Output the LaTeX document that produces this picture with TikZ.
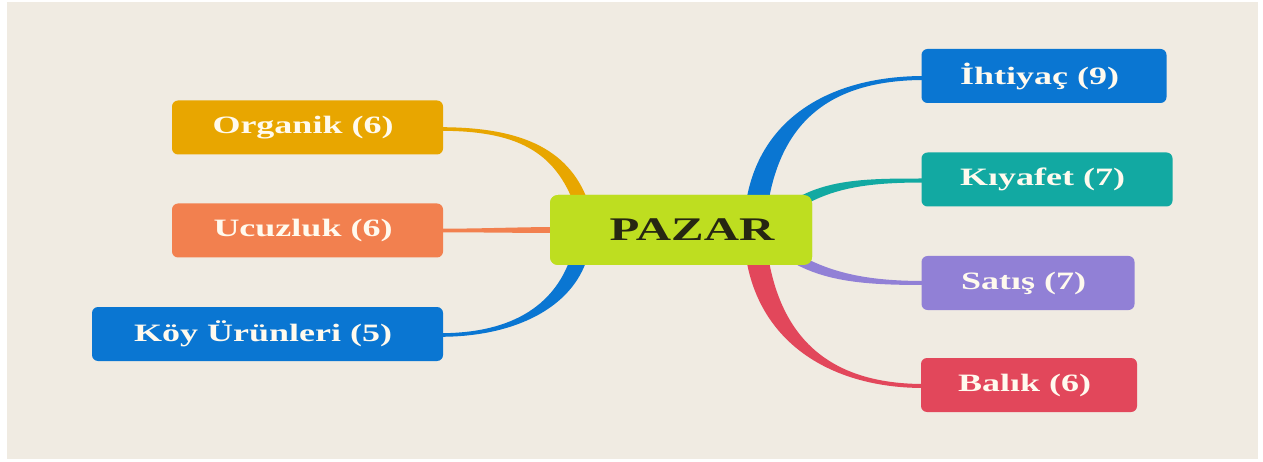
\documentclass[tikz,border=0pt]{standalone}
\usepackage{graphicx}
\usepackage{fontspec}
\setmainfont{Liberation Serif}
\usetikzlibrary{calc}

\definecolor{paper}{RGB}{240,235,226}
\definecolor{hubfill}{RGB}{190,222,32}
\definecolor{hubtext}{RGB}{38,38,18}
\definecolor{amber}{RGB}{232,166,0}
\definecolor{salmon}{RGB}{242,128,79}
\definecolor{azure}{RGB}{10,118,210}
\definecolor{teal}{RGB}{18,169,162}
\definecolor{lilac}{RGB}{145,128,214}
\definecolor{rose}{RGB}{226,71,91}
\definecolor{leaftext}{RGB}{255,250,238}

% wide bold label, as printed on the leaf boxes
\newcommand{\leaftxt}[1]{\scalebox{1.44}[1]{#1}\hspace*{9pt}}

% tapered branch: colour, leaf end, control, control, hub end,
% leaf half-width, hub half-width, side angle (90 left, -90 right)
\newcommand{\taperlink}[8]{%
  \coordinate (ta) at ($(#5)!#7!#8:(#4)$);
  \coordinate (tb) at ($2*(#5)-(ta)$);
  \fill[#1] ($(#2)+(0,#6)$) .. controls ($(#3)+(0,#6)$) and ($(#4)+(ta)-(#5)$) .. (ta)
    -- (tb) .. controls ($(#4)+(tb)-(#5)$) and ($(#3)-(0,#6)$) .. ($(#2)-(0,#6)$) -- cycle;
}

\tikzset{
  leaf/.style={rounded corners=6pt, minimum height=54pt, inner sep=0pt,
    text=leaftext, font=\fontsize{25}{30}\selectfont\bfseries},
  hub/.style={rounded corners=8pt, minimum width=262pt, minimum height=70pt,
    inner sep=0pt, fill=hubfill, text=hubtext,
    font=\fontsize{33}{36}\selectfont\bfseries},
}

\begin{document}
\begin{tikzpicture}[x=1pt,y=-1pt]
  \useasboundingbox (0,0) rectangle (1263,462);
  \fill[white] (0,0) rectangle (1263,462);
  \fill[paper] (7,2) rectangle (1258,459);

  % nodes are placed first so the branches can refer to them
  \begin{pgfonlayer}{main}
  \path
    node[hub] (pz) at (681,230) {\hspace*{22pt}\scalebox{1.48}[1]{PAZAR}}
    node[leaf, minimum width=271pt] (org) at (307.5,127.5) {}
    node[leaf, minimum width=271pt] (ucu) at (307.5,230.5) {}
    node[leaf, minimum width=351pt] (koy) at (267.5,334) {}
    node[leaf, minimum width=245pt] (iht) at (1044,76) {}
    node[leaf, minimum width=251pt] (kiy) at (1047,179.5) {}
    node[leaf, minimum width=213pt] (sat) at (1028,283) {}
    node[leaf, minimum width=216pt] (bal) at (1029,385) {};
  \end{pgfonlayer}

  % branch end points
  \coordinate (o0) at ($(org.east)+(-3,1.5)$);
  \coordinate (o1) at ($(org.east)+(72,1.5)$);
  \coordinate (o2) at ($(pz.north west)+(12,-47)$);
  \coordinate (o3) at ($(pz.north west)+(32,10)$);

  \coordinate (u0) at ($(ucu.east)+(-3,0)$);
  \coordinate (u1) at ($(ucu.east)+(40,0)$);
  \coordinate (u2) at ($(pz.west)+(-30,0)$);
  \coordinate (u3) at ($(pz.west)+(10,0)$);

  \coordinate (k0) at ($(koy.east)+(-3,1)$);
  \coordinate (k1) at ($(koy.east)+(72,1)$);
  \coordinate (k2) at ($(pz.south west)+(15,40)$);
  \coordinate (k3) at ($(pz.south west)+(30,-10)$);

  \coordinate (i0) at ($(iht.west)+(3,2)$);
  \coordinate (i1) at ($(iht.west)+(-91,2)$);
  \coordinate (i2) at ($(pz.north west)+(220,-75)$);
  \coordinate (i3) at ($(pz.north west)+(207,10)$);

  \coordinate (c0) at ($(kiy.west)+(3,1)$);
  \coordinate (c1) at ($(kiy.west)+(-51,1)$);
  \coordinate (c2) at ($(pz.north east)+(18,-12)$);
  \coordinate (c3) at ($(pz.north east)+(-17,10)$);

  \coordinate (s0) at ($(sat.west)+(3,0)$);
  \coordinate (s1) at ($(sat.west)+(-51,0)$);
  \coordinate (s2) at ($(pz.south east)+(18,13)$);
  \coordinate (s3) at ($(pz.south east)+(-17,-7)$);

  \coordinate (b0) at ($(bal.west)+(3,1)$);
  \coordinate (b1) at ($(bal.west)+(-91,1)$);
  \coordinate (b2) at ($(pz.south west)+(220,75)$);
  \coordinate (b3) at ($(pz.south west)+(207,-10)$);

  \taperlink{amber}{o0}{o1}{o2}{o3}{1.8}{7pt}{90}
  \taperlink{salmon}{u0}{u1}{u2}{u3}{1.8}{3pt}{90}
  \taperlink{azure}{k0}{k1}{k2}{k3}{1.8}{8pt}{90}
  \taperlink{azure}{i0}{i1}{i2}{i3}{2}{11pt}{-90}
  \taperlink{teal}{c0}{c1}{c2}{c3}{2}{5pt}{-90}
  \taperlink{lilac}{s0}{s1}{s2}{s3}{2}{5pt}{-90}
  \taperlink{rose}{b0}{b1}{b2}{b3}{2}{11pt}{-90}

  % boxes drawn over the branch ends
  \node[hub] at (pz.center) {\hspace*{22pt}\scalebox{1.48}[1]{PAZAR}};
  \node[leaf, minimum width=271pt, fill=amber] at (org.center) {\leaftxt{Organik (6)}};
  \node[leaf, minimum width=271pt, fill=salmon] at (ucu.center) {\leaftxt{Ucuzluk (6)}};
  \node[leaf, minimum width=351pt, fill=azure] at (koy.center) {\leaftxt{Köy Ürünleri (5)}};
  \node[leaf, minimum width=245pt, fill=azure] at (iht.center) {\leaftxt{İhtiyaç (9)}};
  \node[leaf, minimum width=251pt, fill=teal] at (kiy.center) {\leaftxt{Kıyafet (7)}};
  \node[leaf, minimum width=213pt, fill=lilac] at (sat.center) {\leaftxt{Satış (7)}};
  \node[leaf, minimum width=216pt, fill=rose] at (bal.center) {\leaftxt{Balık (6)}};
\end{tikzpicture}
\end{document}
